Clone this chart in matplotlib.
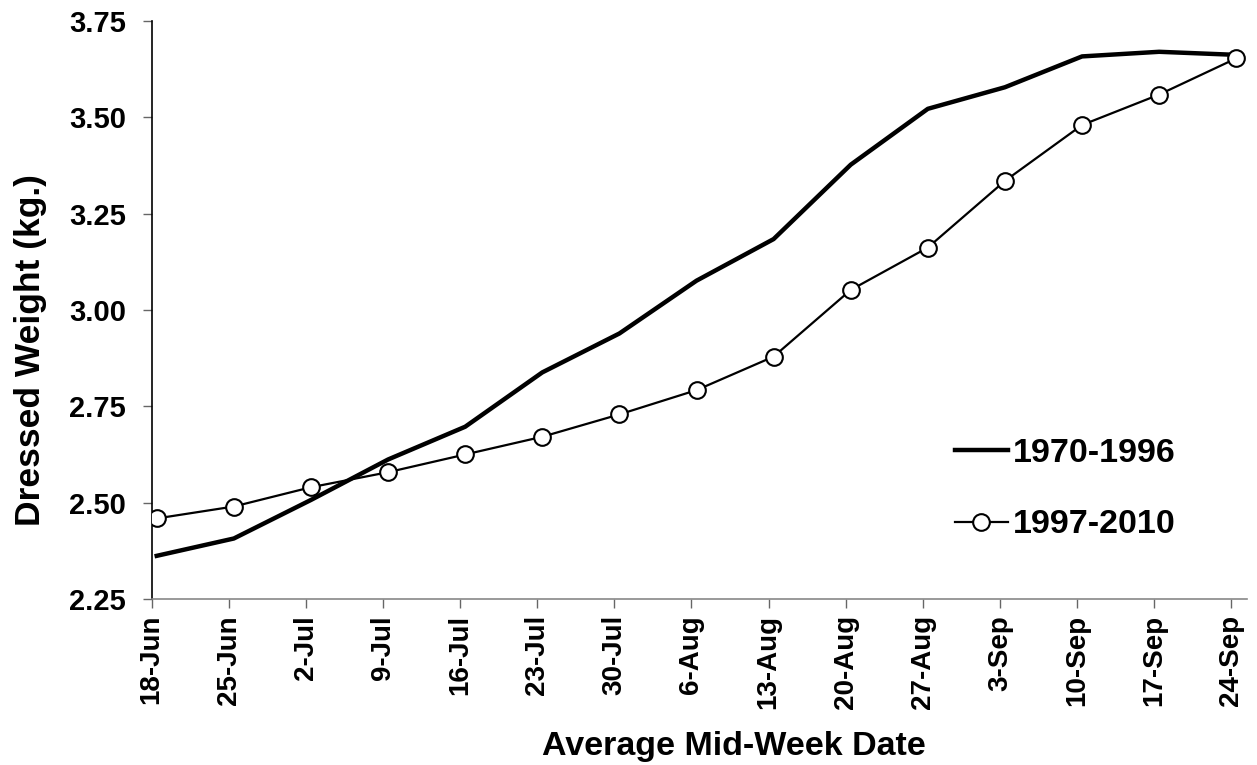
import numpy as np
import matplotlib
matplotlib.use('Agg')
import matplotlib.pyplot as plt

plt.rcParams['font.family'] = ['Liberation Sans', 'DejaVu Sans']
plt.rcParams['font.weight'] = 'bold'

# week labels and the two series (dressed weight, kg)
weeks = ['18-Jun', '25-Jun', '2-Jul', '9-Jul', '16-Jul', '23-Jul', '30-Jul', '6-Aug',
         '13-Aug', '20-Aug', '27-Aug', '3-Sep', '10-Sep', '17-Sep', '24-Sep']
w_1970_1996 = [2.362, 2.407, 2.507, 2.612, 2.697, 2.838, 2.939, 3.076,
               3.184, 3.377, 3.522, 3.578, 3.658, 3.670, 3.662]
w_1997_2010 = [2.459, 2.490, 2.540, 2.579, 2.625, 2.671, 2.729, 2.792,
               2.879, 3.052, 3.162, 3.335, 3.480, 3.559, 3.653]

x = np.arange(len(weeks))

fig = plt.figure(figsize=(12.57, 7.65), dpi=100)
ax = fig.add_axes([0.1207, 0.217, 0.8714, 0.7556])

ax.plot(x, w_1970_1996, color='black', lw=3.2, label='1970-1996', zorder=3)
ax.plot(x, w_1997_2010, color='black', lw=1.6, marker='o', markersize=12,
        markerfacecolor='white', markeredgecolor='black', markeredgewidth=1.5,
        label='1997-2010', zorder=4)

ax.set_xlim(-0.065, 14.14)
ax.set_ylim(2.25, 3.75)
ax.set_xticks(x - 0.065)
ax.set_xticklabels(weeks, rotation=90, fontsize=20, fontweight='bold')
ax.set_yticks([2.25, 2.50, 2.75, 3.00, 3.25, 3.50, 3.75])
ax.set_yticklabels(['%.2f' % v for v in ax.get_yticks()], fontsize=21, fontweight='bold')

ax.spines['top'].set_visible(False)
ax.spines['right'].set_visible(False)
ax.spines['left'].set_color('black')
ax.spines['bottom'].set_color('#888888')
ax.spines['left'].set_linewidth(1.2)
ax.spines['bottom'].set_linewidth(1.2)
ax.tick_params(axis='both', direction='out', length=6.5, width=1.0, color='#666666')
ax.tick_params(axis='y', pad=12)
ax.tick_params(axis='x', pad=5)

# axis titles (placed like the original, a bit off the axes centre)
fig.text(734 / 1257, 1 - 755 / 765, 'Average Mid-Week Date', fontsize=24.5,
         fontweight='bold', ha='center', va='baseline')
fig.text(31 / 1257, 1 - 350 / 765, 'Dressed Weight (kg.)', fontsize=25.5,
         fontweight='bold', rotation=90, ha='center', va='center')

fig.legend(loc='upper left', bbox_to_anchor=(0.7597, 0.428), frameon=False,
           handlelength=1.55, handletextpad=0.15, labelspacing=1.2,
           borderpad=0, borderaxespad=0,
           prop={'weight': 'bold', 'size': 24.5})

fig.savefig('out.png', dpi=100)
